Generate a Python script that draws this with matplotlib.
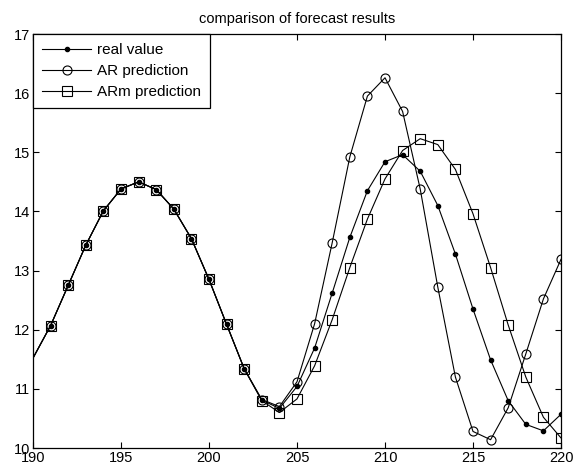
import matplotlib
matplotlib.use("Agg")
import matplotlib.pyplot as plt

plt.rcParams['font.family'] = ['Liberation Sans', 'DejaVu Sans']

x = list(range(190, 221))
real_value = [11.52, 12.07, 12.75, 13.43, 14.01, 14.38, 14.50, 14.37, 14.04, 13.54,
              12.85, 12.09, 11.34, 10.81, 10.67, 11.04, 11.69, 12.62, 13.56, 14.35,
              14.84, 14.96, 14.68, 14.10, 13.28, 12.35, 11.49, 10.80, 10.40, 10.29, 10.57]
ar_pred = [11.52, 12.07, 12.75, 13.43, 14.01, 14.38, 14.50, 14.37, 14.04, 13.54,
           12.85, 12.09, 11.34, 10.82, 10.70, 11.12, 12.10, 13.47, 14.92, 15.95,
           16.26, 15.69, 14.38, 12.72, 11.20, 10.28, 10.14, 10.68, 11.59, 12.52, 13.19]
arm_pred = [11.52, 12.07, 12.75, 13.43, 14.01, 14.38, 14.50, 14.37, 14.04, 13.54,
            12.85, 12.09, 11.34, 10.80, 10.60, 10.83, 11.39, 12.17, 13.05, 13.87,
            14.55, 15.03, 15.23, 15.13, 14.71, 13.96, 13.05, 12.08, 11.20, 10.52, 10.17]
labels = ['real value', 'AR prediction', 'ARm prediction']
title = 'comparison of forecast results'

fig = plt.figure(figsize=(5.74, 4.66), dpi=100)
ax = fig.add_axes([33/574, 18/466, 528/574, 414/466])

mk = list(range(1, len(x)))
lw = 0.8
ax.plot(x, real_value, color='black', lw=lw, marker='.', markersize=6,
        markevery=mk, label=labels[0])
ax.plot(x, ar_pred, color='black', lw=lw, marker='o', markersize=6.5,
        markerfacecolor='none', markeredgewidth=0.8, markevery=mk, label=labels[1])
ax.plot(x, arm_pred, color='black', lw=lw, marker='s', markersize=6.5,
        markerfacecolor='none', markeredgewidth=0.8, markevery=mk, label=labels[2])

ax.set_xlim(190, 220)
ax.set_ylim(10, 17)
ax.set_xticks(range(190, 221, 5))
ax.set_yticks(range(10, 18))
ax.tick_params(direction='in', top=True, right=True, length=4, width=0.8,
               labelsize=10.5, pad=2)
for s in ax.spines.values():
    s.set_linewidth(0.9)
ax.set_title(title, fontsize=10.5, pad=8)

leg = ax.legend(loc='upper left', fontsize=11, frameon=True, fancybox=False,
                edgecolor='black', framealpha=1, borderaxespad=0,
                handlelength=3.2, labelspacing=0.45, borderpad=0.6,
                handletextpad=0.4)
leg.get_frame().set_linewidth(0.9)

fig.savefig('out.png', dpi=100)
